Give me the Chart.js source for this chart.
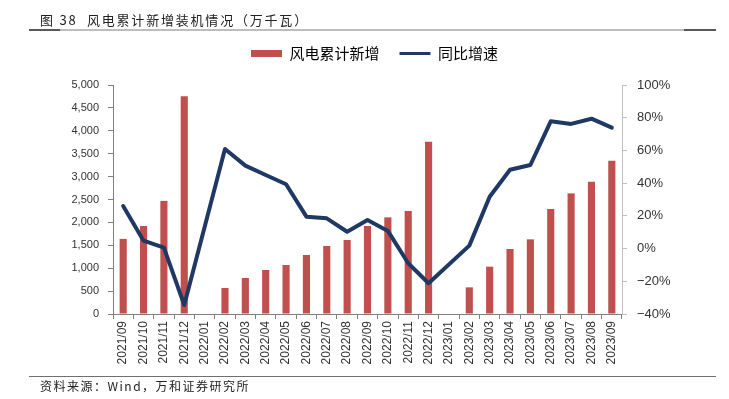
<!DOCTYPE html>
<html><head><meta charset="utf-8">
<script src="https://cdn.jsdelivr.net/npm/chart.js@4.4.0/dist/chart.umd.min.js"></script>
<style>
html,body{margin:0;padding:0;background:#fff;width:729px;height:399px;overflow:hidden;}
#wrap{position:absolute;left:0;top:0;width:729px;height:399px;}
.title{position:absolute;left:40px;top:10px;font-family:"Noto Sans CJK SC";font-size:13px;color:#222;letter-spacing:1.8px;white-space:nowrap;}
.src{position:absolute;left:40px;top:377px;font-family:"Noto Sans CJK SC";font-size:12px;color:#222;letter-spacing:1.5px;white-space:nowrap;}
.hl{position:absolute;height:2px;}
</style></head>
<body>
<div id="wrap"><canvas id="c" width="729" height="399"></canvas></div>
<div class="title">图 38&nbsp;&nbsp;风电累计新增装机情况（万千瓦）</div>
<div class="hl" style="left:29px;top:29px;width:687px;background:#bdbdbd;"></div>
<div class="hl" style="left:29px;top:29px;width:31px;background:#595959;"></div>
<div class="hl" style="left:684px;top:29px;width:32px;background:#595959;"></div>
<div class="hl" style="left:29px;top:376px;width:687px;height:1px;background:#707070;"></div>
<div class="src">资料来源：Wind，万和证券研究所</div>
<script>
const categories = ["2021/09","2021/10","2021/11","2021/12","2022/01","2022/02","2022/03","2022/04","2022/05","2022/06","2022/07","2022/08","2022/09","2022/10","2022/11","2022/12","2023/01","2023/02","2023/03","2023/04","2023/05","2023/06","2023/07","2023/08","2023/09"];
const cumulativeNew = [1640,1920,2470,4757,null,568,786,961,1070,1288,1485,1616,1924,2110,2250,3760,null,582,1033,1419,1630,2292,2634,2889,3348];
const yoyGrowth = [26,4.8,0.6,-34.5,null,60.9,50.7,45,39.3,19.5,18.5,10.3,17.5,10.8,-9,-21.2,null,1.8,31.7,48.2,51.1,77.8,76.2,79.4,73.9];
const leftTicks = [0,500,1000,1500,2000,2500,3000,3500,4000,4500,5000];
const rightTicks = [-40,-20,0,20,40,60,80,100];
const seriesNames = ["风电累计新增","同比增速"];

const RED = "#C0504D", NAVY = "#1F3864";
const tickFont = {family:"'Liberation Sans', Arial, sans-serif", size:11};

const legendSpace = {
  id:"legendSpace",
  beforeInit(chart){
    const fit = chart.legend.fit;
    chart.legend.fit = function(){ fit.call(this); this.height += 14; };
  }
};

new Chart(document.getElementById("c"), {
  data: {
    labels: categories,
    datasets: [
      {type:"bar", label:seriesNames[0], data:cumulativeNew, backgroundColor:RED, yAxisID:"y", barPercentage:0.35, categoryPercentage:1.0, order:2},
      {type:"line", label:seriesNames[1], data:yoyGrowth, borderColor:NAVY, backgroundColor:NAVY, borderWidth:4, pointRadius:0, tension:0, spanGaps:true, yAxisID:"y1", order:1, borderJoinStyle:"round", borderCapStyle:"round"}
    ]
  },
  plugins:[legendSpace],
  options: {
    responsive:false, animation:false,
    layout:{padding:{left:20,right:0,top:26,bottom:25}},
    plugins:{
      tooltip:{enabled:false},
      legend:{
        position:"top",
        labels:{
          font:{family:"'Noto Sans CJK SC'", size:15}, color:"#222",
          usePointStyle:true, pointStyleWidth:31, boxHeight:7, padding:20,
          generateLabels(chart){
            return chart.data.datasets.map((ds,i)=>({
              text: ds.label, datasetIndex:i,
              fillStyle: i===0 ? RED : NAVY,
              strokeStyle: i===0 ? RED : NAVY,
              lineWidth: i===0 ? 0 : 3,
              pointStyle: i===0 ? "rect" : "line",
              hidden:false
            }));
          }
        }
      }
    },
    scales:{
      x:{
        offset:true,
        grid:{display:true, offset:true, drawOnChartArea:false, drawTicks:true, tickLength:5, color:"#808080"},
        border:{display:true, color:"#808080", width:1},
        ticks:{font:{family:"'Liberation Sans', Arial, sans-serif", size:12}, color:"#333", maxRotation:90, minRotation:90, autoSkip:false, padding:2},
        afterFit(s){ s.height = 60; }
      },
      y:{
        position:"left", min:0, max:5000,
        afterBuildTicks(s){ s.ticks = leftTicks.map(v=>({value:v})); },
        grid:{display:true, drawOnChartArea:false, drawTicks:true, tickLength:5, color:"#808080"},
        border:{display:true, color:"#808080"},
        ticks:{font:tickFont, color:"#333", padding:9, callback:v=>v.toLocaleString("en-US")},
        afterFit(s){ s.width = 93; }
      },
      y1:{
        position:"right", min:-40, max:100,
        afterBuildTicks(s){ s.ticks = rightTicks.map(v=>({value:v})); },
        grid:{display:true, drawOnChartArea:false, drawTicks:true, tickLength:5, color:"#bfbfbf"},
        border:{display:true, color:"#bfbfbf"},
        ticks:{font:{family:"'Liberation Sans', Arial, sans-serif", size:13}, color:"#333", padding:10, callback:v=>(v<0?"\u2212"+Math.abs(v):v)+"%"},
        afterFit(s){ s.width = 107; }
      }
    }
  }
});
</script>
</body></html>
